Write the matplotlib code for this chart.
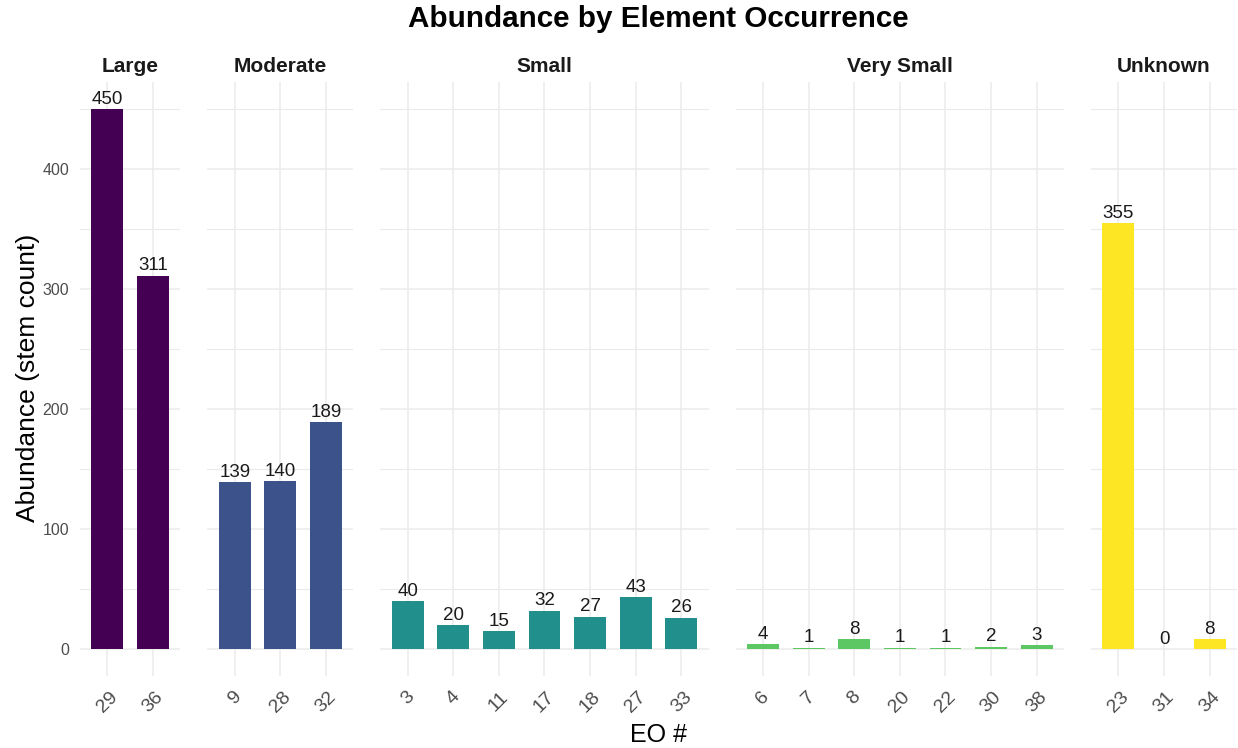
import matplotlib.pyplot as plt

plt.rcParams['font.family'] = ['Liberation Sans', 'DejaVu Sans']

# data
groups = ['Large', 'Moderate', 'Small', 'Very Small', 'Unknown']
colors = ['#440154', '#3B528B', '#21908C', '#5DC863', '#FDE725']

large_eo = ['29', '36']
large_val = [450, 311]
moderate_eo = ['9', '28', '32']
moderate_val = [139, 140, 189]
small_eo = ['3', '4', '11', '17', '18', '27', '33']
small_val = [40, 20, 15, 32, 27, 43, 26]
vsmall_eo = ['6', '7', '8', '20', '22', '30', '38']
vsmall_val = [4, 1, 8, 1, 1, 2, 3]
unknown_eo = ['23', '31', '34']
unknown_val = [355, 0, 8]

eos = [large_eo, moderate_eo, small_eo, vsmall_eo, unknown_eo]
vals = [large_val, moderate_val, small_val, vsmall_val, unknown_val]

W, H = 1238, 748
fig = plt.figure(figsize=(W / 100, H / 100), dpi=100)

# layout in pixels
left, right, top, bottom, gap = 80, 1237, 82, 676, 27
units = [len(e) + 0.2 for e in eos]
unit_px = (right - left - gap * (len(eos) - 1)) / sum(units)

ymax = max(max(v) for v in vals)
ylim = (-0.05 * ymax, 1.05 * ymax)
grid_col = '#EBEBEB'

x0 = left
for i, (grp, eo, val) in enumerate(zip(groups, eos, vals)):
    w = units[i] * unit_px
    ax = fig.add_axes([x0 / W, (H - bottom) / H, w / W, (bottom - top) / H])
    x0 += w + gap
    xs = list(range(len(eo)))
    ax.bar(xs, val, width=0.7, color=colors[i], zorder=3)
    for x, v in zip(xs, val):
        ax.annotate(str(v), (x, v), xytext=(0, 1), textcoords='offset points',
                    ha='center', va='bottom', fontsize=13.5, color='#1A1A1A', zorder=4)
    ax.set_xlim(-0.6, len(eo) - 0.4)
    ax.set_ylim(*ylim)
    ax.set_xticks(xs)
    ax.set_xticklabels(eo, rotation=45, ha='center', va='top', fontsize=14, color='#4D4D4D')
    ax.set_yticks([0, 100, 200, 300, 400])
    ax.set_yticks([50, 150, 250, 350, 450], minor=True)
    ax.tick_params(axis='both', which='both', length=0)
    ax.tick_params(axis='x', pad=9)
    ax.tick_params(axis='y', pad=8, labelsize=11.5, labelcolor='#4D4D4D')
    ax.grid(True, which='major', color=grid_col, linewidth=1.1, zorder=0)
    ax.grid(True, which='minor', axis='y', color=grid_col, linewidth=0.8, zorder=0)
    for s in ax.spines.values():
        s.set_visible(False)
    if i > 0:
        ax.set_yticklabels([])
    ax.set_title(grp, fontsize=15, fontweight='bold', color='#1A1A1A', pad=7)

fig.text((left + right) / 2 / W, 1 - 19 / H, 'Abundance by Element Occurrence', ha='center',
         va='center', fontsize=21.3, fontweight='bold', color='black')
fig.text(28 / W, 1 - 378 / H, 'Abundance (stem count)', rotation=90, ha='center',
         va='center', fontsize=19)
fig.text((left + right) / 2 / W, 1 - 735 / H, 'EO #', ha='center', va='center', fontsize=18)

fig.savefig('out.png', dpi=100, facecolor='white')
